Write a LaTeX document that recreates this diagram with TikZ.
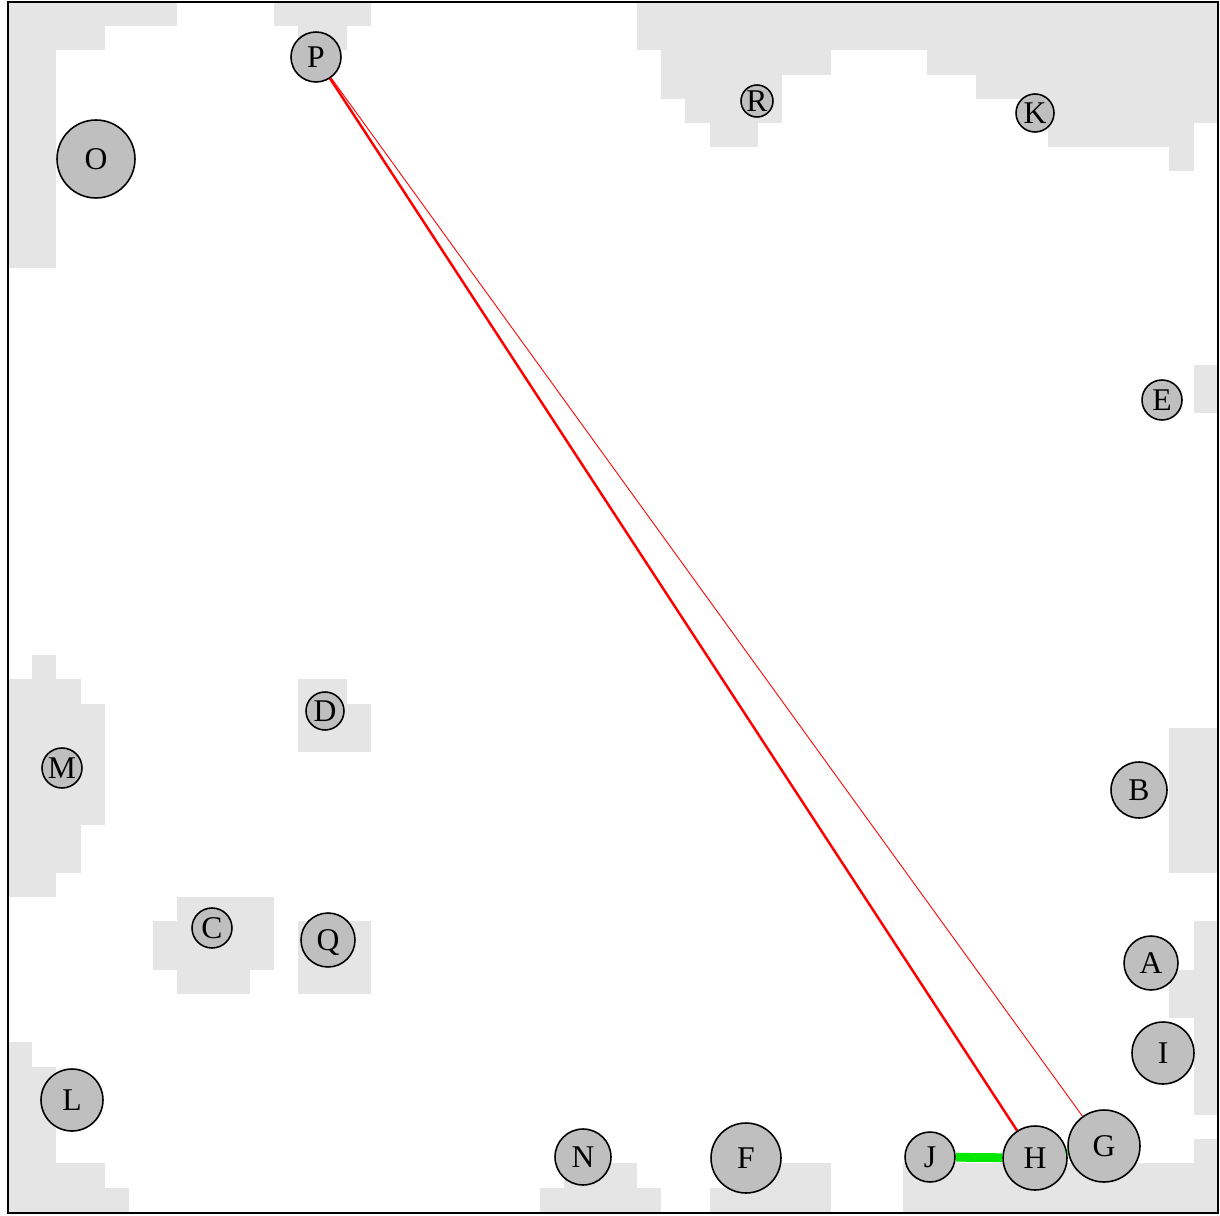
\documentclass[tikz,border=0pt]{standalone}
\usepackage{fontspec}
\setmainfont{Liberation Serif}
\usepackage{tikz}
\definecolor{cellgray}{RGB}{229,229,229}
\definecolor{botgray}{RGB}{191,191,191}
\definecolor{pathred}{RGB}{255,0,0}
\definecolor{pathgreen}{RGB}{0,232,0}

\begin{document}
\begin{tikzpicture}[x=0.02cm, y=-0.02cm,
  robot/.style={circle, draw=black, line width=0.9pt, fill=botgray, inner sep=0pt,
    text height=11.9pt, text depth=0pt, font=\fontsize{18}{20}\selectfont},
  rad/.style={minimum size=#1*0.04cm},
  route/.style={pathred, line width=1.4pt},
  thinroute/.style={pathred, line width=0.5pt},
  handoff/.style={pathgreen, line width=5pt}]
  \useasboundingbox (0,0) rectangle (1220,1216);

  % Occupied cells (grid of 50 x 50)
  \begin{scope}[shift={(8,2)}, x=0.484cm, y=-0.484cm]
    \foreach \xa/\ya/\xb/\yb in {0/0/7/1, 0/1/4/2, 0/2/2/11,
        11/0/15/1, 12/1/14/2,
        26/0/50/2, 27/2/34/3, 38/2/50/3, 27/3/32/4, 40/3/50/4,
        28/4/32/5, 43/4/50/5, 29/5/31/6, 43/5/49/6, 48/6/49/7,
        49/15/50/17,
        1/27/2/28, 0/28/3/29, 0/29/4/34, 0/34/3/36, 0/36/2/37,
        12/28/14/29, 12/29/15/31,
        7/37/11/38, 6/38/11/40, 7/40/10/41,
        12/38/15/41,
        48/30/50/36,
        49/38/50/40, 48/40/50/42, 49/42/50/46,
        49/47/50/48, 37/48/50/50,
        30/48/34/49, 29/49/34/50,
        23/48/26/49, 22/49/27/50,
        0/43/1/44, 0/44/2/48, 0/48/4/49, 0/49/5/50}
      \fill[cellgray] (\xa,\ya) rectangle (\xb,\yb);
  \end{scope}

  % Frame
  \draw[line width=0.9pt] (8,2) rectangle (1218,1213);

  % Robots
  \node[robot, rad=25] (P) at (316,57) {P};
  \node[robot, rad=39] (O) at (96,159) {O};
  \node[robot, rad=16] (R) at (757,101) {R};
  \node[robot, rad=19] (K) at (1035,113) {K};
  \node[robot, rad=20] (E) at (1162,400) {E};
  \node[robot, rad=19] (D) at (325,711) {D};
  \node[robot, rad=20] (M) at (62,768) {M};
  \node[robot, rad=20] (C) at (212,928) {C};
  \node[robot, rad=27] (Q) at (328,940) {Q};
  \node[robot, rad=28] (B) at (1139,790) {B};
  \node[robot, rad=27] (A) at (1151,963) {A};
  \node[robot, rad=31] (I) at (1163,1053) {I};
  \node[robot, rad=31] (L) at (72,1100) {L};
  \node[robot, rad=28] (N) at (583,1157) {N};
  \node[robot, rad=35] (F) at (746,1158) {F};
  \node[robot, rad=25] (J) at (930,1157) {J};
  \node[robot, rad=32] (H) at (1035,1158) {H};
  \node[robot, rad=36] (G) at (1104,1146) {G};

  % Links
  \draw[route] (P) -- (H);
  \draw[thinroute] (P) -- (G);
  \draw[handoff] (J) -- (H);
  \draw[handoff] (H) -- (G);
\end{tikzpicture}
\end{document}
